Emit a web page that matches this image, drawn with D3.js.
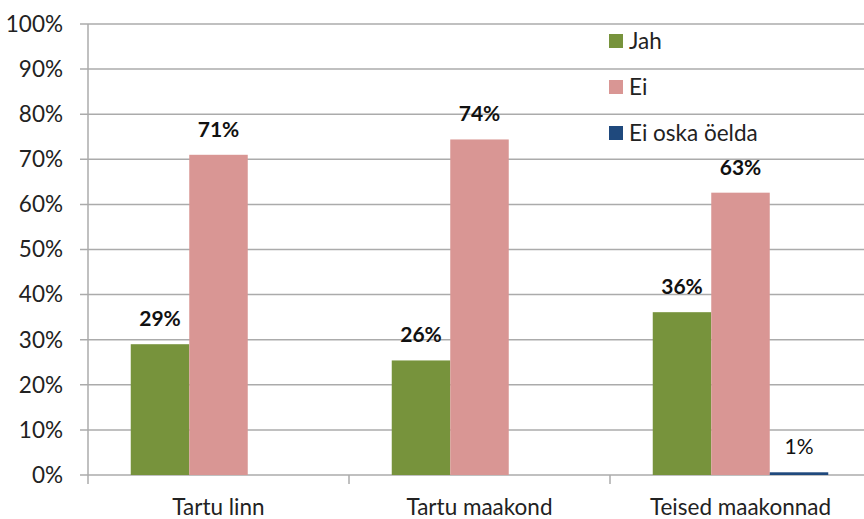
<!DOCTYPE html>
<html>
<head>
<meta charset="utf-8">
<script src="https://cdn.jsdelivr.net/npm/d3@7"></script>
<style>
  body { margin: 0; background: #fff; }
  svg { display: block; font-family: Lato, "Open Sans", sans-serif; }
</style>
</head>
<body>
<svg id="chart" width="864" height="519"></svg>
<script>
var categories = ["Tartu linn", "Tartu maakond", "Teised maakonnad"];
var series = ["Jah", "Ei", "Ei oska öelda"];
var jah = [29.0, 25.4, 36.1];
var ei = [71.0, 74.4, 62.6];
var eiOska = [0, 0, 0.6];
var jahLabels = ["29%", "26%", "36%"];
var eiLabels = ["71%", "74%", "63%"];
var eiOskaLabels = ["", "", "1%"];
var yTicks = [0, 10, 20, 30, 40, 50, 60, 70, 80, 90, 100];

var colors = ["#77933C", "#D99694", "#1F497D"];
var values = [jah, ei, eiOska];
var labels = [jahLabels, eiLabels, eiOskaLabels];
var bold = [true, true, false];

var plotL = 88, plotR = 871, plotT = 24, plotB = 475;
var svg = d3.select('#chart');

var x = d3.scaleBand()
    .domain(categories)
    .range([plotL, plotR])
    .paddingInner(0)
    .paddingOuter(0);

var groupW = 58.5 * 3;
var xs = d3.scaleBand()
    .domain(series)
    .range([0, groupW]);

var y = d3.scaleLinear().domain([0, 100]).range([plotB, plotT]);

// gridlines
svg.append('g')
    .selectAll('line')
    .data(yTicks)
    .enter()
    .append('line')
    .attr('x1', plotL - 8)
    .attr('x2', 864)
    .attr('y1', function(d){ return y(d); })
    .attr('y2', function(d){ return y(d); })
    .attr('stroke', '#ABABAB')
    .attr('stroke-width', 1.5);

// y axis line
svg.append('line')
    .attr('x1', plotL).attr('x2', plotL)
    .attr('y1', plotT).attr('y2', plotB + 9)
    .attr('stroke', '#ABABAB')
    .attr('stroke-width', 1.5);

// y tick labels
svg.append('g')
    .selectAll('text')
    .data(yTicks)
    .enter()
    .append('text')
    .attr('x', 63)
    .attr('y', function(d){ return y(d); })
    .attr('dy', '0.35em')
    .attr('text-anchor', 'end')
    .attr('font-size', '22.5px')
    .attr('fill', '#222')
    .text(function(d){ return d + '%'; });

// x category ticks
svg.append('g')
    .selectAll('line')
    .data(categories.slice(1))
    .enter()
    .append('line')
    .attr('x1', function(d){ return x(d); })
    .attr('x2', function(d){ return x(d); })
    .attr('y1', plotB)
    .attr('y2', plotB + 9)
    .attr('stroke', '#ABABAB')
    .attr('stroke-width', 1.5);

// category labels
svg.append('g')
    .selectAll('text')
    .data(categories)
    .enter()
    .append('text')
    .attr('x', function(d){ return x(d) + x.bandwidth() / 2; })
    .attr('y', 515)
    .attr('text-anchor', 'middle')
    .attr('font-size', '22.5px')
    .attr('fill', '#222')
    .text(function(d){ return d; });

// bars
series.forEach(function(s, si){
    var g = svg.append('g');
    var data = categories.map(function(c, ci){ return {c: c, v: values[si][ci], l: labels[si][ci]}; });
    g.selectAll('rect')
        .data(data)
        .enter()
        .append('rect')
        .attr('x', function(d){ return x(d.c) + (x.bandwidth() - groupW) / 2 + xs(s); })
        .attr('y', function(d){ return y(d.v); })
        .attr('width', xs.bandwidth())
        .attr('height', function(d){ return plotB - y(d.v); })
        .attr('fill', colors[si]);
    g.selectAll('text')
        .data(data.filter(function(d){ return d.l !== ''; }))
        .enter()
        .append('text')
        .attr('x', function(d){ return x(d.c) + (x.bandwidth() - groupW) / 2 + xs(s) + xs.bandwidth() / 2; })
        .attr('y', function(d){ return y(d.v) - 18; })
        .attr('text-anchor', 'middle')
        .attr('font-size', '21px')
        .attr('font-weight', bold[si] ? 'bold' : 'normal')
        .attr('fill', '#111')
        .text(function(d){ return d.l; });
});

// legend
var legend = svg.append('g')
    .selectAll('g')
    .data(series)
    .enter()
    .append('g')
    .attr('transform', function(d, i){ return 'translate(609,' + (41 + i * 46) + ')'; });
legend.append('rect')
    .attr('x', 0).attr('y', -7)
    .attr('width', 14).attr('height', 14)
    .attr('fill', function(d, i){ return colors[i]; });
legend.append('text')
    .attr('x', 20)
    .attr('y', 0)
    .attr('dy', '0.35em')
    .attr('font-size', '22.5px')
    .attr('fill', '#222')
    .text(function(d){ return d; });
</script>
</body>
</html>
